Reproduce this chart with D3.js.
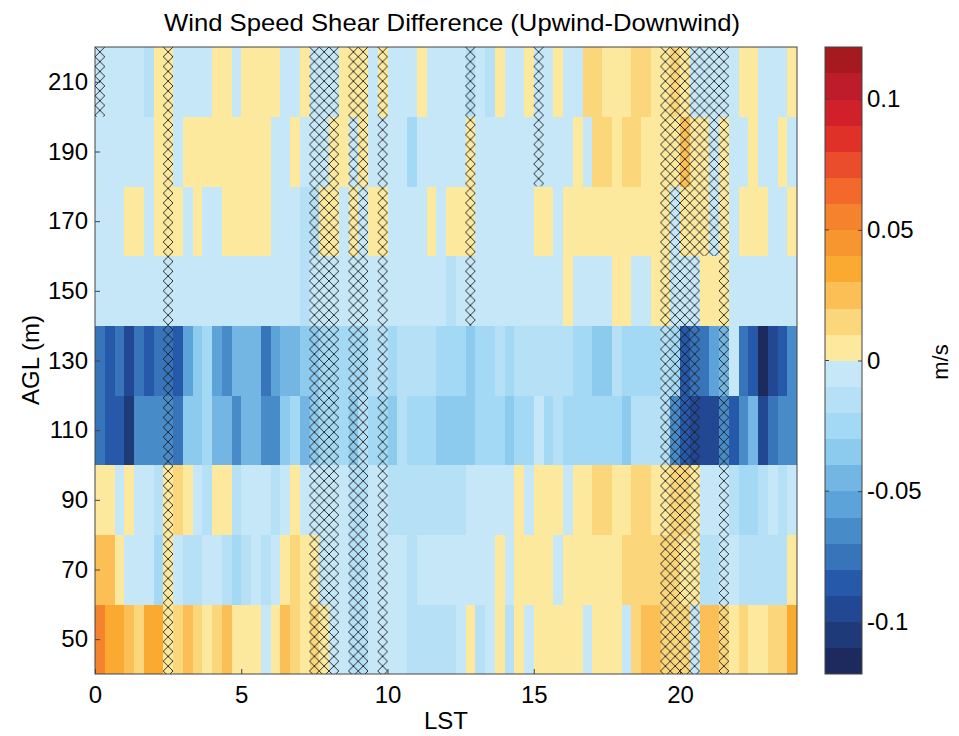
<!DOCTYPE html>
<html><head><meta charset="utf-8">
<script src="https://cdn.jsdelivr.net/npm/d3@7"></script>
<style>body{margin:0;background:#fff;} text{font-family:"Liberation Sans",Arial,sans-serif;fill:#000;}</style>
</head><body>
<svg id="c" width="959" height="736"></svg>
<script>
// ---- data: 20-minute bins (72 per day), 9 heights ----
const heights = [50, 70, 90, 110, 130, 150, 170, 190, 210];
const xTicks = [0, 5, 10, 15, 20];
const yTicks = [50, 70, 90, 110, 130, 150, 170, 190, 210];
const cbTicks = [-0.1, -0.05, 0, 0.05, 0.1];
const cbTickLabels = ["-0.1", "-0.05", "0", "0.05", "0.1"];

const shear210 = [-0.005,-0.005,-0.005,-0.005,-0.005,-0.015,0.005,0.005,-0.005,-0.005,-0.005,-0.005,0.005,0.005,-0.005,0.005,0.005,0.005,0.005,-0.005,-0.005,0.005,-0.005,-0.005,-0.005,0.005,0.005,0.005,-0.005,0.005,-0.005,-0.005,-0.005,0.005,-0.005,-0.005,-0.005,-0.005,-0.015,-0.005,-0.015,0.005,-0.005,-0.005,0.005,-0.005,-0.005,0.005,-0.005,-0.005,0.015,0.015,0.005,0.005,0.005,0.015,0.015,0.005,0.005,0.015,0.005,-0.005,-0.005,-0.005,-0.005,-0.005,0.005,0.005,-0.005,-0.005,-0.005,0.005];
const shear190 = [-0.005,-0.005,-0.005,-0.005,-0.005,-0.005,0.005,0.005,-0.005,0.005,0.005,0.005,0.005,0.005,0.005,0.005,0.005,0.005,-0.005,-0.005,0.005,-0.005,-0.005,-0.005,0.005,0.005,-0.005,0.005,-0.005,-0.005,-0.005,-0.005,-0.025,-0.005,-0.005,-0.005,-0.005,-0.005,0.005,-0.005,-0.005,-0.005,-0.005,-0.005,-0.005,-0.005,-0.005,-0.005,-0.005,0.005,-0.005,0.015,0.015,0.005,0.015,0.015,0.005,0.005,0.005,0.005,0.025,0.005,0.005,-0.005,0.005,-0.005,-0.005,0.005,-0.005,-0.005,0.005,-0.005];
const shear170 = [-0.005,-0.005,-0.005,0.005,0.005,-0.005,0.005,0.005,0.005,-0.005,0.005,-0.005,-0.005,0.005,0.005,0.005,0.005,0.005,-0.005,-0.005,-0.005,-0.015,-0.015,0.005,0.005,-0.005,0.005,-0.005,0.005,0.005,-0.005,-0.005,-0.005,-0.005,0.005,-0.005,0.005,0.005,0.005,-0.005,-0.005,-0.005,-0.005,-0.005,-0.005,0.005,0.005,-0.005,0.005,0.005,0.005,0.005,0.005,0.005,0.005,0.005,0.005,0.005,0.005,-0.005,0.005,0.005,0.005,-0.005,0.005,-0.005,0.005,0.005,0.005,-0.005,-0.005,0.005];
const shear150 = [-0.005,-0.005,-0.005,-0.005,-0.005,-0.005,-0.005,-0.005,-0.005,-0.005,-0.005,-0.005,-0.005,-0.005,-0.005,-0.005,-0.005,-0.005,-0.005,-0.005,-0.005,-0.015,-0.005,-0.005,-0.005,-0.005,-0.005,-0.005,-0.005,-0.005,-0.005,-0.005,-0.005,-0.005,-0.005,-0.005,-0.015,-0.005,-0.005,-0.005,-0.005,-0.005,-0.005,-0.005,-0.005,-0.005,-0.005,-0.005,0.005,-0.005,-0.005,-0.005,-0.005,0.005,0.005,-0.005,-0.005,0.005,0.005,-0.005,-0.005,-0.005,0.005,0.005,0.005,-0.005,-0.005,-0.005,-0.005,-0.005,-0.005,-0.005];
const shear130 = [-0.075,-0.085,-0.075,-0.095,-0.075,-0.085,-0.075,-0.075,-0.085,-0.055,-0.035,-0.025,-0.055,-0.065,-0.045,-0.045,-0.045,-0.075,-0.055,-0.045,-0.045,-0.035,-0.035,-0.025,-0.025,-0.025,-0.025,-0.025,-0.015,-0.015,-0.025,-0.015,-0.015,-0.015,-0.015,-0.025,-0.025,-0.025,-0.035,-0.025,-0.025,-0.015,-0.025,-0.015,-0.015,-0.015,-0.015,-0.015,-0.015,-0.025,-0.025,-0.035,-0.035,-0.015,-0.025,-0.025,-0.025,-0.025,-0.015,-0.025,-0.085,-0.075,-0.075,-0.055,-0.045,-0.005,-0.075,-0.085,-0.115,-0.095,-0.085,-0.065];
const shear110 = [-0.075,-0.085,-0.085,-0.105,-0.065,-0.065,-0.065,-0.065,-0.075,-0.035,-0.035,-0.025,-0.045,-0.045,-0.065,-0.045,-0.045,-0.065,-0.065,-0.035,-0.025,-0.045,-0.035,-0.025,-0.025,-0.025,-0.035,-0.015,-0.025,-0.025,-0.035,-0.015,-0.025,-0.025,-0.025,-0.035,-0.035,-0.035,-0.035,-0.025,-0.025,-0.025,-0.035,-0.025,-0.025,-0.005,-0.025,-0.015,-0.025,-0.025,-0.025,-0.025,-0.025,-0.025,-0.035,-0.015,-0.015,-0.015,-0.015,-0.065,-0.085,-0.095,-0.095,-0.095,-0.065,-0.085,-0.065,-0.045,-0.095,-0.075,-0.065,-0.065];
const shear90 = [0.005,0.005,-0.005,0.005,-0.005,-0.005,-0.015,0.005,0.015,0.005,-0.005,-0.015,0.005,0.005,-0.015,-0.005,-0.005,-0.005,-0.015,-0.005,0.005,-0.005,-0.005,-0.005,-0.005,-0.005,-0.015,-0.015,-0.005,-0.005,-0.015,-0.015,-0.015,-0.015,-0.015,-0.015,-0.015,-0.015,-0.005,-0.005,-0.005,-0.005,-0.005,0.005,-0.005,0.005,0.005,0.005,-0.005,0.005,0.005,0.015,0.015,0.005,0.005,0.015,0.015,0.005,0.005,0.015,0.015,0.005,-0.005,-0.005,-0.005,-0.015,-0.025,-0.025,-0.015,-0.005,-0.015,-0.005];
const shear70 = [0.025,0.025,0.005,-0.005,-0.005,-0.005,-0.025,0.005,-0.005,-0.015,-0.015,-0.005,-0.005,-0.015,-0.025,-0.015,-0.005,-0.015,-0.005,0.005,0.015,0.005,0.005,-0.005,-0.005,-0.005,-0.015,-0.015,-0.005,-0.005,-0.005,-0.005,-0.015,-0.005,-0.005,-0.005,-0.005,-0.005,-0.005,-0.005,-0.005,0.005,-0.005,0.005,0.005,0.005,0.005,-0.005,0.005,0.005,0.005,0.005,0.005,0.005,0.015,0.015,0.015,0.015,0.015,0.015,0.005,0.005,-0.015,-0.015,-0.005,-0.005,-0.015,-0.015,-0.015,-0.015,-0.015,0.005];
const shear50 = [0.055,0.035,0.035,0.025,0.015,0.035,0.035,0.005,0.015,0.025,0.015,0.005,0.015,0.025,0.005,0.005,0.005,-0.005,0.005,0.025,0.015,0.005,0.015,0.005,-0.005,-0.005,-0.015,-0.015,-0.005,-0.005,-0.005,-0.005,-0.015,-0.015,-0.015,-0.015,-0.015,-0.005,0.005,-0.015,-0.005,0.005,-0.015,0.005,-0.005,0.005,0.005,0.005,0.005,0.005,-0.005,0.005,0.005,0.005,-0.005,0.015,0.025,0.025,0.015,0.015,0.015,-0.005,0.025,0.025,0.015,0.005,0.015,0.005,0.005,0.015,0.015,0.035];

// significance (hatched) bins per height, as column indices
const sig210 = [0,7,22,23,24,26,27,29,38,45,58,59,60,61,62,63,64];
const sig190 = [7,22,23,24,26,27,29,38,45,58,59,60,61,62,63,64];
const sig170 = [7,22,23,24,26,27,29,38,58,59,60,61,62,63,64];
const sig150 = [7,22,23,24,26,27,29,38,58,59,60,61,64];
const sig130 = [7,22,23,24,26,27,29,58,59,60,61,64];
const sig110 = [7,22,23,24,26,27,29,58,59,60,61,64];
const sig90  = [7,22,23,24,26,27,29,58,59,60,61,64];
const sig70  = [7,22,23,24,26,27,29,58,59,60,61,64];
const sig50  = [7,22,23,24,26,27,29,58,59,60,61,64];

const palette = ["#1c2a5e","#1f3a79","#234893","#2759ab","#3874ba","#478bc8","#5ba3d8","#74b6e3","#8ccbee","#a3d9f4","#b5e0f6","#c6e7f7",
                 "#fde99d","#fbd67b","#fcbf55","#faaa30","#f7962f","#f5822c","#f3692b","#ea4d2b","#df3128","#d02029","#bd1d2b","#a5191f"];

const rows = [shear50, shear70, shear90, shear110, shear130, shear150, shear170, shear190, shear210];
const sigs = [sig50, sig70, sig90, sig110, sig130, sig150, sig170, sig190, sig210];
const nBins = 72, binHours = 24 / nBins;

const svg = d3.select("#c");
const L = 95, R = 797, T = 47, B = 674;
const x = d3.scaleLinear().domain([0, 24]).range([L, R]);
const y = d3.scaleLinear().domain([40, 220]).range([B, T]);
const color = d3.scaleQuantize().domain([-0.12, 0.12]).range(palette);

const cells = [];
rows.forEach((arr, j) => arr.forEach((v, i) => cells.push({i, h: heights[j], v, sig: sigs[j].includes(i)})));

// hatch pattern: one X per column-width tile
const cw = x(binHours) - x(0);
const defs = svg.append("defs");
const pat = defs.append("pattern").attr("id", "hatch").attr("patternUnits", "userSpaceOnUse")
  .attr("x", L).attr("y", T).attr("width", cw).attr("height", cw);
pat.append("path").attr("d", `M0,0L${cw},${cw}M${cw},0L0,${cw}`)
  .attr("stroke", "#1a1a1a").attr("stroke-width", 0.9).attr("fill", "none");

const g = svg.append("g");
g.selectAll("rect.cell").data(cells).join("rect").attr("class", "cell")
  .attr("x", d => x(d.i * binHours)).attr("width", d => x((d.i + 1) * binHours) - x(d.i * binHours) + 0.3)
  .attr("y", d => y(d.h + 10)).attr("height", d => y(d.h - 10) - y(d.h + 10) + 0.3)
  .attr("fill", d => color(d.v)).attr("shape-rendering", "crispEdges");
g.selectAll("rect.sig").data(cells.filter(d => d.sig)).join("rect").attr("class", "sig")
  .attr("x", d => x(d.i * binHours)).attr("width", d => x((d.i + 1) * binHours) - x(d.i * binHours))
  .attr("y", d => y(d.h + 10)).attr("height", d => y(d.h - 10) - y(d.h + 10))
  .attr("fill", "url(#hatch)");

// frame and ticks
svg.append("rect").attr("x", L).attr("y", T).attr("width", R - L).attr("height", B - T)
  .attr("fill", "none").attr("stroke", "#444").attr("stroke-width", 1);
const xAxis = d3.axisBottom(x).tickValues(xTicks).tickSize(-5).tickPadding(12).tickFormat(d3.format("d"));
const ax = svg.append("g").attr("transform", `translate(0,${B})`).call(xAxis);
const yAxis = d3.axisLeft(y).tickValues(yTicks).tickSize(-5).tickPadding(7).tickFormat(d3.format("d"));
const ay = svg.append("g").attr("transform", `translate(${L},0)`).call(yAxis);
[ax, ay].forEach(a => {
  a.select(".domain").remove();
  a.selectAll(".tick line").attr("stroke", "#444");
  a.selectAll(".tick text").style("font-size", "24px").style("font-family", "Liberation Sans, Arial, sans-serif");
});

svg.append("text").attr("x", 452).attr("y", 31).attr("text-anchor", "middle")
  .attr("textLength", 576).attr("lengthAdjust", "spacingAndGlyphs")
  .style("font-size", "24px").text("Wind Speed Shear Difference (Upwind-Downwind)");
svg.append("text").attr("x", 446).attr("y", 729).attr("text-anchor", "middle")
  .style("font-size", "24px").text("LST");
svg.append("text").attr("transform", "translate(39,360) rotate(-90)").attr("text-anchor", "middle")
  .style("font-size", "24px").text("AGL (m)");

// colorbar
const cL = 825, cR = 862;
const cy = d3.scaleLinear().domain([-0.12, 0.12]).range([B, T]);
const bins = d3.range(24).map(k => -0.12 + k * 0.01);
svg.append("g").selectAll("rect").data(bins).join("rect")
  .attr("x", cL).attr("width", cR - cL).attr("y", d => cy(d + 0.01)).attr("height", d => cy(d) - cy(d + 0.01) + 0.3)
  .attr("fill", d => color(d + 0.005)).attr("shape-rendering", "crispEdges");
svg.append("rect").attr("x", cL).attr("y", T).attr("width", cR - cL).attr("height", B - T)
  .attr("fill", "none").attr("stroke", "#444").attr("stroke-width", 1);
const cAxis = d3.axisRight(cy).tickValues(cbTicks).tickSize(-4).tickPadding(5)
  .tickFormat((d, k) => cbTickLabels[k]);
const ac = svg.append("g").attr("transform", `translate(${cR},0)`).call(cAxis);
ac.select(".domain").remove();
ac.selectAll(".tick line").attr("stroke", "#444");
ac.selectAll(".tick text").style("font-size", "24px").style("font-family", "Liberation Sans, Arial, sans-serif");
svg.append("g").selectAll("line").data(cbTicks).join("line")
  .attr("x1", cL).attr("x2", cL + 4).attr("y1", d => cy(d)).attr("y2", d => cy(d)).attr("stroke", "#444");
svg.append("text").attr("transform", "translate(948,362) rotate(-90)").attr("text-anchor", "middle")
  .style("font-size", "22px").text("m/s");
</script>
</body></html>
